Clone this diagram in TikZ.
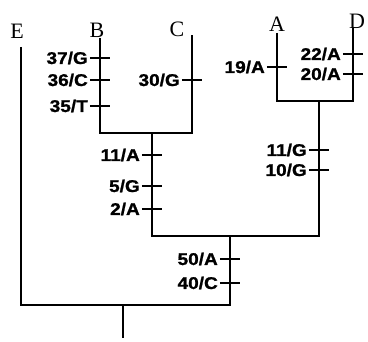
\documentclass[tikz,border=0pt]{standalone}
\usepackage{fontspec}
\setmainfont{Liberation Serif}
\newfontfamily\mutfont[FakeStretch=1.12, FakeBold=1.2]{Liberation Sans Bold}
\usepackage{tikz}

\tikzset{
  branch/.style={line width=2.3pt, line join=miter},
  mutmark/.style={line width=2.8pt},
  taxon/.style={font=\fontsize{22}{22}\selectfont, inner sep=0pt},
  mutlabel/.style={font=\mutfont\fontsize{17}{17}\selectfont, anchor=east, inner sep=0pt},
}

\begin{document}
\begin{tikzpicture}[x=1pt,y=-1pt]
        \useasboundingbox (0,0) rectangle (368,342);

        \node[taxon] (E) at (17,31) {E};
        \node[taxon] (B) at (97,30) {B};
        \node[taxon] (C) at (177,29) {C};
        \node[taxon] (A) at (277,24) {A};
        \node[taxon] (D) at (357,21) {D};

        \coordinate (tipE) at (21,47);
        \coordinate (tipB) at (100,38);
        \coordinate (tipC) at (192,35);
        \coordinate (tipA) at (277,33);
        \coordinate (tipD) at (353,28);

        \coordinate (bc) at (152,133);
        \coordinate (ad) at (319,101);
        \coordinate (bcad) at (230,236);
        \coordinate (root) at (123,305);
        \coordinate (rootend) at (123,338);

        \draw[branch] (tipB) |- (bc) -| (tipC);
        \draw[branch] (tipA) |- (ad) -| (tipD);
        \draw[branch] (bc) |- (bcad) -| (ad);
        \draw[branch] (tipE) |- (root) -| (bcad);
        \draw[branch] (root) -- (rootend);

        % mutations on each branch
        \foreach \x/\y/\lab in {100/58/{37/G}, 100/80/{36/C}, 100/106/{35/T},
                192/80/{30/G}, 277/67/{19/A}, 353/54/{22/A}, 353/74/{20/A},
                152/155/{11/A}, 152/186/{5/G}, 152/209/{2/A},
                319/150/{11/G}, 319/170/{10/G},
                230/259/{50/A}, 230/283/{40/C}} {
            \draw[mutmark] (\x-10,\y) -- (\x+10,\y);
            \node[mutlabel] (m-\x-\y) at (\x-12,\y) {\lab};
        }
    \end{tikzpicture}
\end{document}
